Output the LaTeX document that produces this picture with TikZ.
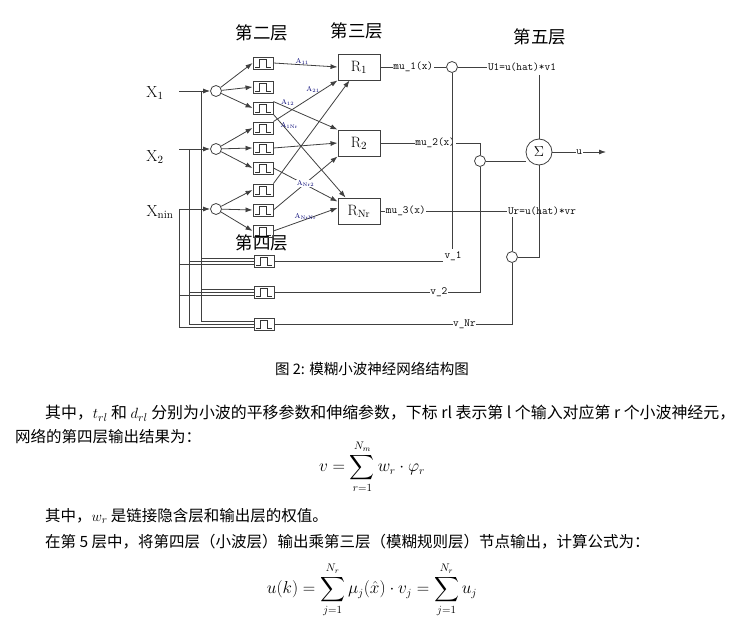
\documentclass[tikz,border=0pt]{standalone}
\usepackage{fontspec}
\usepackage{amsmath}
\newfontfamily\cjk{Noto Sans CJK SC}
\usetikzlibrary{arrows.meta}
\begin{document}
\begin{tikzpicture}[x=1pt,y=-1pt,
  ln/.style={draw=black!75,line width=0.8pt},
  ar/.style={ln,-{Latex[length=7pt,width=5pt]}},
  wb/.style={draw=black!75,line width=0.9pt,minimum width=20pt,minimum height=12pt,inner sep=0pt},
  rb/.style={draw=black!75,line width=0.9pt,minimum width=42pt,minimum height=26pt,inner sep=0pt,font=\fontsize{15}{15}\selectfont},
  cc/.style={circle,draw=black!75,line width=0.8pt,minimum size=11pt,inner sep=0pt},
  lab/.style={font=\ttfamily\fontsize{11}{11}\selectfont,fill=white,inner sep=0.5pt},
  al/.style={font=\fontsize{7}{7}\selectfont,text=black!55!blue,inner sep=0.5pt},
  hd/.style={font=\cjk\fontsize{17.5}{17.5}\selectfont},
  xl/.style={font=\fontsize{16}{16}\selectfont},
  tx/.style={font=\cjk\fontsize{15.5}{15.5}\selectfont,anchor=west,inner sep=0pt},
  eq/.style={font=\fontsize{16}{16}\selectfont}]
\useasboundingbox (0,0) rectangle (742,620);
\newcommand{\wav}[3]{\node[wb] (#1) at (#2,#3) {};
  \draw[black!80,line width=0.8pt] (#2-8,#3+4) -- (#2-4,#3+4) -- (#2-4,#3-4) -- (#2+3,#3-4) -- (#2+3,#3+4) -- (#2+8,#3+4);}
% headings
\node[hd] (h2) at (262,33) {第二层};
\node[hd] (h3) at (357,31) {第三层};
\node[hd] (h5) at (540,37) {第五层};
\node[hd] (h4) at (262,243) {第四层};
% inputs
\node[xl] (x1) at (155,93) {X$_1$};
\node[xl] (x2) at (155,157) {X$_2$};
\node[xl] (x3) at (160,212) {X$_{\text{nin}}$};
\node[cc] (c1) at (216,91) {};
\node[cc] (c2) at (216,149) {};
\node[cc] (c3) at (216,209) {};
\coordinate (s1) at (179,91); \coordinate (s2) at (179,149); \coordinate (s3) at (179,209);
\draw[ar] (s1) -- (c1); \draw[ar] (s2) -- (c2); \draw[ar] (s3) -- (c3);
% wavelet boxes
\wav{w1}{263}{63}\wav{w2}{263}{87}\wav{w3}{263}{108}
\wav{w4}{263}{128}\wav{w5}{263}{148}\wav{w6}{263}{168}
\wav{w7}{263}{190}\wav{w8}{263}{210}\wav{w9}{263}{231}
\foreach \c/\w in {c1/w1,c1/w2,c1/w3,c2/w4,c2/w5,c2/w6,c3/w7,c3/w8,c3/w9}
  \draw[ar] (\c) -- (\w.west);
% rule boxes
\node[rb] (r1) at (359,67) {R$_1$};
\node[rb] (r2) at (359,143) {R$_2$};
\node[rb] (r3) at (359,211) {R$_{\text{Nr}}$};
\draw[ar] (w1.east) -- node[al,above=-1pt,pos=0.45] {A$_{11}$} (r1.west);
\draw[ar] (w3.north east) -- node[al,pos=0.12,above right=-1pt] {A$_{12}$} (r2.north west);
\draw[ar] (w4.north east) -- node[al,pos=0.72,above left=-1pt] {A$_{21}$} (r1.south west);
\draw[ar] (w3.south east) -- node[al,pos=0.1,below right=-1pt] {A$_{1\text{Nr}}$} ([xshift=8pt]r3.north west);
\draw[ar] (w5.east) -- (r2.west);
\draw[ar] (w7.north east) -- ([xshift=12pt]r1.south west);
\draw[ar] (w6.east) -- ([yshift=-4pt]r3.north west);
\draw[ar] (w8.east) -- node[al,pos=0.5,fill=white] {A$_{\text{Nr}2}$} (r2.south west);
\draw[ar] (w9.east) -- node[al,above=-1pt] {A$_{\text{Nr}\text{Nr}}$} ([yshift=3pt]r3.west);
% bus and fourth-layer boxes
\wav{b1}{264}{261}\wav{b2}{264}{292}\wav{b3}{264}{324}
\draw[ln] (201,91) -- (201,321);
\draw[ln] (189,149) -- (189,324);
\draw[ln] (s3) -- (179,327);
\foreach \b/\y in {b1/261,b2/292,b3/324}{
  \draw[ln] (201,\y-3) -- ([yshift=3pt]\b.west);
  \draw[ln] (189,\y) -- (\b.west);
  \draw[ln] (179,\y+3) -- ([yshift=-3pt]\b.west);}
% fifth layer
\node[cc] (m1) at (452,67) {};
\node[cc] (m2) at (480,161) {};
\node[cc] (m3) at (512,257) {};
\node[circle,draw=black!75,line width=0.8pt,minimum size=26pt,inner sep=0pt,font=\fontsize{15}{15}\selectfont] (sg) at (539,152) {$\Sigma$};
\draw[ln] (r1.east) -- node[lab] {mu\_1(x)} (m1);
\node[lab] (u1) at (522,67) {U1=u(hat)*v1};
\draw[ln] (m1) -- (u1);
\draw[ln] (539,75) -- (sg);
\draw[ln] (r2.east) -- node[lab,pos=0.55] {mu\_2(x)} (480,143) -- (m2);
\draw[ln] (m2) -- (sg.west |- m2);
\node[lab] (ur) at (542,211) {Ur=u(hat)*vr};
\draw[ln] (r3.east) -- node[lab,pos=0.2] {mu\_3(x)} (ur);
\draw[ln] (512,217) -- (m3);
\draw[ln] (m3) -- (539,257) -- (sg);
\draw[ln] (b1.east) -- (443,261); \node[lab,fill=none] (v1) at (453,256) {v\_1};
\draw[ln] (m1) -- (452,249);
\draw[ln] (b2.east) -- node[lab,pos=0.8] {v\_2} (480,292) -- (m2);
\draw[ln] (b3.east) -- node[lab,pos=0.8] {v\_Nr} (512,324) -- (m3);
\coordinate (out) at (606,152);
\draw[ar] (sg) -- node[lab] {u} (out);
% caption and text
\node[font=\cjk\fontsize{14.5}{14.5}\selectfont] (cap) at (372,369) {图 2: 模糊小波神经网络结构图};
\node[tx] (t1) at (45,413) {\resizebox{690pt}{!}{其中，$t_{rl}$ 和 $d_{rl}$ 分别为小波的平移参数和伸缩参数，下标 rl 表示第 l 个输入对应第 r 个小波神经元，}};
\node[tx] (t2) at (15,437) {网络的第四层输出结果为：};
\node[eq] (eq1) at (372,467) {$\displaystyle v=\sum_{r=1}^{N_m} w_r\cdot\varphi_r$};
\node[tx] (t3) at (45,516) {其中，$w_r$ 是链接隐含层和输出层的权值。};
\node[tx] (t4) at (45,542) {在第 5 层中，将第四层（小波层）输出乘第三层（模糊规则层）节点输出，计算公式为：};
\node[eq] (eq2) at (372,590) {$\displaystyle u(k)=\sum_{j=1}^{N_r}\mu_j(\hat{x})\cdot v_j=\sum_{j=1}^{N_r}u_j$};
\end{tikzpicture}
\end{document}
